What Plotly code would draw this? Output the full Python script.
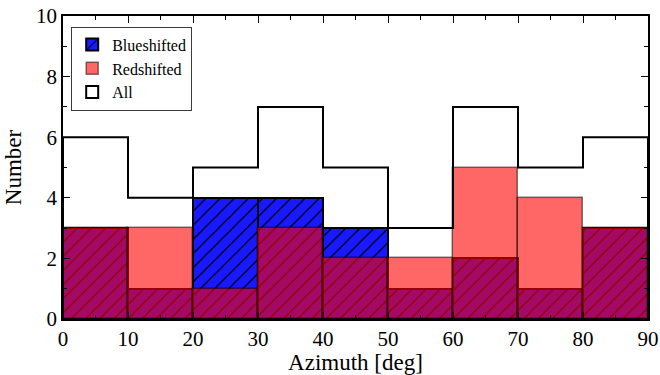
import plotly.graph_objects as go

# Azimuth histogram: 10-degree bins from 0 to 90
bin_edges = [0, 10, 20, 30, 40, 50, 60, 70, 80, 90]
blue_counts = [3, 1, 4, 4, 3, 1, 2, 1, 3]
red_counts = [3, 3, 1, 3, 2, 2, 5, 4, 3]
all_counts = [b + r for b, r in zip(blue_counts, red_counts)]

centers = [(a + b) / 2 for a, b in zip(bin_edges[:-1], bin_edges[1:])]
widths = [b - a for a, b in zip(bin_edges[:-1], bin_edges[1:])]

SERIF = "Liberation Serif"

fig = go.Figure()

fig.add_trace(go.Bar(
    x=centers, y=blue_counts, width=widths, name="Blueshifted",
    marker=dict(color="rgb(25,25,255)",
                line=dict(color="black", width=2),
                pattern=dict(shape="/", size=10, solidity=0.12,
                             fgcolor="black", fgopacity=1)),
))

fig.add_trace(go.Bar(
    x=centers, y=red_counts, width=widths, name="Redshifted",
    marker=dict(color="rgba(255,0,0,0.6)",
                line=dict(color="rgba(0,0,0,0.5)", width=1.5)),
))

# step outline of the combined counts
step_x = [bin_edges[0]] + bin_edges
step_y = [0] + all_counts + [all_counts[-1]]
fig.add_trace(go.Scatter(
    x=step_x + [bin_edges[-1]], y=step_y + [0], mode="lines",
    line=dict(color="black", width=2, shape="hv"),
    showlegend=False, hoverinfo="skip",
))
fig.add_trace(go.Bar(
    x=[None], y=[None], name="All",
    marker=dict(color="white", line=dict(color="black", width=2)),
))

axis_common = dict(
    showline=True, linecolor="black", linewidth=1.5, mirror="allticks",
    ticks="inside", ticklen=7, tickwidth=1.2, tickcolor="black",
    showgrid=False, zeroline=False, automargin=False,
    ticklabeloverflow="allow",
    tickfont=dict(family=SERIF, size=21, color="black"),
)

fig.update_xaxes(
    range=[0, 90], tickmode="array", tickvals=bin_edges,
    minor=dict(ticks="inside", ticklen=4, dtick=5, tickcolor="black", tickwidth=1),
    title=dict(text="Azimuth [deg]", font=dict(family=SERIF, size=23, color="black"),
               standoff=0),
    **axis_common,
)
fig.update_yaxes(
    range=[0, 10], dtick=2,
    minor=dict(ticks="inside", ticklen=4, dtick=1, tickcolor="black", tickwidth=1),
    title=dict(text="Number", font=dict(family=SERIF, size=23, color="black"),
               standoff=8),
    **axis_common,
)

fig.update_layout(
    width=660, height=375,
    margin=dict(l=63, r=12, t=16, b=56),
    barmode="overlay", bargap=0,
    plot_bgcolor="white", paper_bgcolor="white",
    font=dict(family=SERIF, color="black"),
    legend=dict(x=0.014, y=0.965, xanchor="left", yanchor="top",
                bgcolor="white", bordercolor="rgb(60,60,60)", borderwidth=1,
                font=dict(family=SERIF, size=16, color="black"),
                traceorder="normal"),
)

fig.write_html("out.html")
